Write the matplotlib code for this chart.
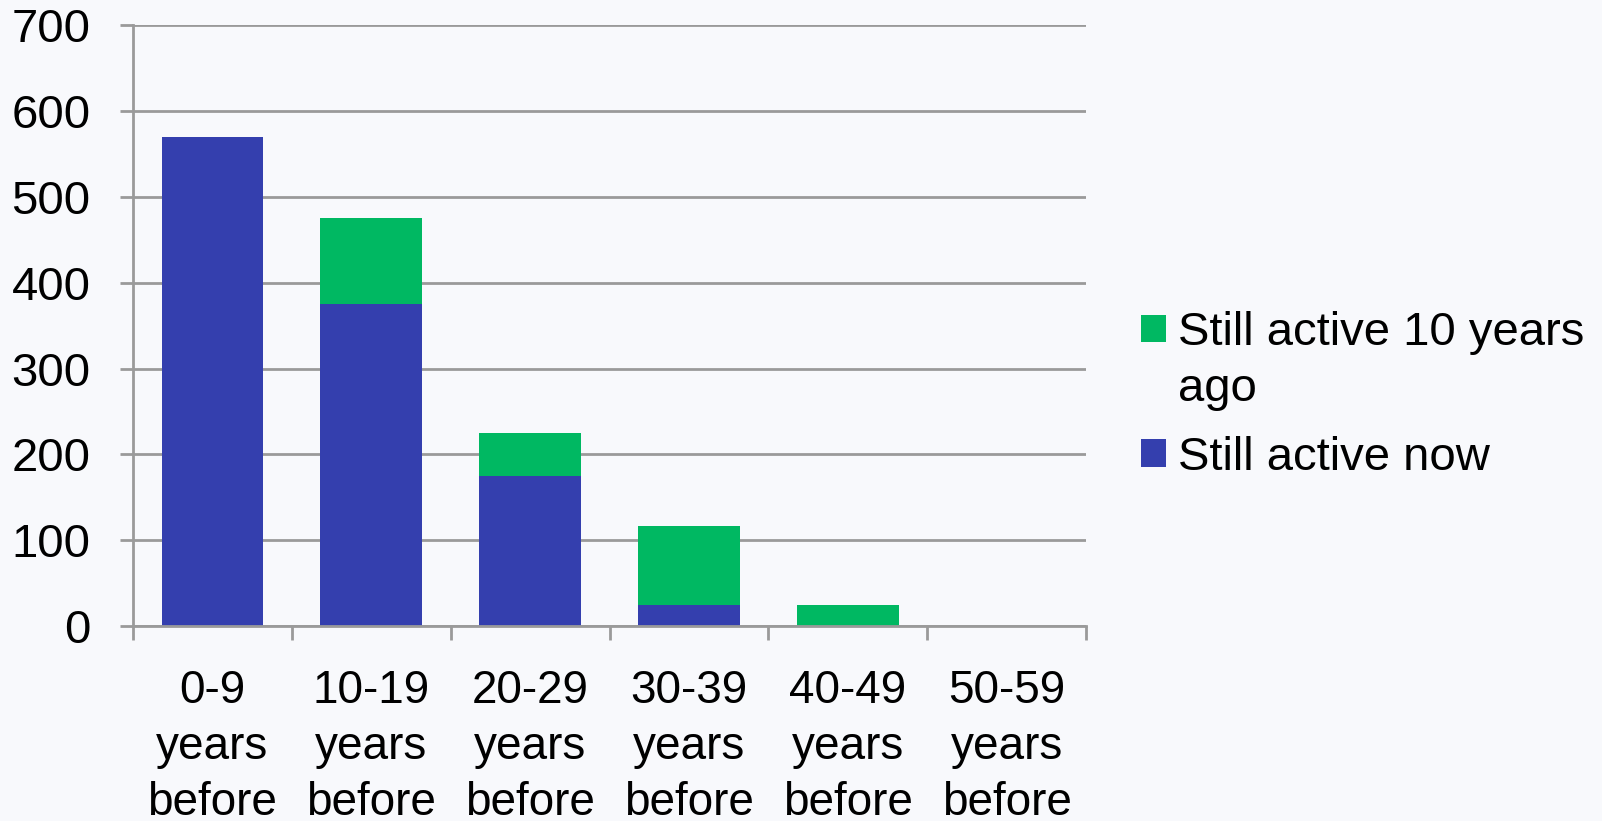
import numpy as np
import matplotlib.pyplot as plt
from matplotlib.patches import Patch

# %% data
categories = ['0-9\nyears\nbefore', '10-19\nyears\nbefore', '20-29\nyears\nbefore',
              '30-39\nyears\nbefore', '40-49\nyears\nbefore', '50-59\nyears\nbefore']
still_now = [570, 375, 175, 24, 0, 0]
still_10y = [0, 100, 50, 93, 24, 0]
y_ticks = [0, 100, 200, 300, 400, 500, 600, 700]

plt.rcParams['font.family'] = ['Liberation Sans', 'DejaVu Sans']

bg = '#f8f9fc'
grid_c = '#9a9a9a'

fig = plt.figure(figsize=(16.02, 8.21), dpi=100, facecolor=bg)
ax = fig.add_axes([0.0830, 0.2375, 0.5950, 0.7315])
ax.set_facecolor(bg)
ax.set_axisbelow(True)

x = np.arange(len(categories))
b_now = ax.bar(x, still_now, width=0.64, color='#343fae', label='Still active now')
b_10y = ax.bar(x, still_10y, bottom=still_now, width=0.64, color='#00b862',
               label='Still active 10 years ago')

ax.set_xlim(-0.5, len(categories) - 0.5)
ax.set_ylim(0, 700)
ax.set_yticks(y_ticks)
ax.yaxis.grid(True, color=grid_c, lw=2)

ax.set_xticks(x)
ax.set_xticklabels(categories, fontsize=33, linespacing=1.35)
ax.set_xticks(np.arange(-0.5, len(categories), 1), minor=True)
ax.tick_params(axis='x', which='major', length=0, pad=31)
ax.tick_params(axis='x', which='minor', length=10, width=2, color=grid_c)
ax.tick_params(axis='y', length=9.5, width=2, color=grid_c, labelsize=34, pad=21)

for s in ['top', 'right']:
    ax.spines[s].set_visible(False)
for s in ['left', 'bottom']:
    ax.spines[s].set_color(grid_c)
    ax.spines[s].set_linewidth(2)

# legend: green entry wraps onto a second line, swatch sits on the first line
leg_kw = dict(loc='upper left', frameon=False, borderpad=0, borderaxespad=0,
              handlelength=0.53, handleheight=0.53, handletextpad=0.25, prop={'size': 34})
fig.legend(handles=[b_10y, Patch(color='none')], labels=['Still active 10 years', 'ago'],
           bbox_to_anchor=(0.7122, 0.621), labelspacing=0.26, **leg_kw)
fig.legend(handles=[b_now], labels=['Still active now'],
           bbox_to_anchor=(0.7122, 0.469), **leg_kw)

fig.savefig('out.png', dpi=100, facecolor=bg)
